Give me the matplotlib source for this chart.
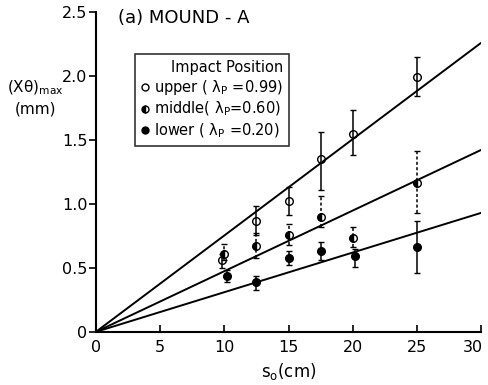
import matplotlib
matplotlib.use("Agg")
import matplotlib.pyplot as plt
import matplotlib.transforms as mtransforms
import numpy as np

# Data
upper_x = [9.8, 12.5, 15, 17.5, 20, 25]
upper_y = [0.56, 0.87, 1.02, 1.35, 1.55, 1.99]
upper_lo = [0.50, 0.76, 0.91, 1.11, 1.38, 1.84]
upper_hi = [0.61, 0.98, 1.13, 1.56, 1.73, 2.15]

middle_x = [10, 12.5, 15, 17.5, 20, 25]
middle_y = [0.61, 0.67, 0.76, 0.90, 0.73, 1.16]
middle_lo = [0.56, 0.58, 0.68, 0.82, 0.66, 0.93]
middle_hi = [0.69, 0.77, 0.84, 1.06, 0.82, 1.41]

lower_x = [10.2, 12.5, 15, 17.5, 20.2, 25]
lower_y = [0.44, 0.39, 0.58, 0.63, 0.59, 0.66]
lower_lo = [0.39, 0.33, 0.52, 0.56, 0.51, 0.46]
lower_hi = [0.48, 0.44, 0.63, 0.70, 0.65, 0.87]

# fitted line slopes (mm per cm)
slopes = [0.0753, 0.0474, 0.031]
line_x = [0, 30]

labels = [r"upper ( λ$_{\rm P}$ =0.99)",
          r"middle( λ$_{\rm P}$=0.60)",
          r"lower ( λ$_{\rm P}$ =0.20)"]
fills = ["none", "left", "full"]

fig = plt.figure(figsize=(4.89, 3.85), dpi=100)
ax = fig.add_axes([0.196, 0.138, 0.788, 0.831])

series = [
    (upper_x, upper_y, upper_lo, upper_hi),
    (middle_x, middle_y, middle_lo, middle_hi),
    (lower_x, lower_y, lower_lo, lower_hi),
]

for s in slopes:
    ax.plot(line_x, [s * x for x in line_x], color="black", lw=1.4, zorder=2)

handles = []
for (x, y, lo, hi), lab, fs in zip(series, labels, fills):
    y = np.array(y)
    yerr = [y - np.array(lo), np.array(hi) - y]
    face = "white" if fs == "none" else "black"
    eb = ax.errorbar(x, y, yerr=yerr, fmt="o", color="black", mfc=face,
                     fillstyle=fs, markerfacecoloralt="white", ms=5.5, mew=1.0,
                     ecolor="black", elinewidth=1.1, capsize=2.5, capthick=1.0, zorder=3)
    if fs == "left":
        eb[2][0].set_linestyle((0, (2, 1.5)))
    h, = ax.plot([], [], "o", color="black", mfc=face,
                 fillstyle=fs, markerfacecoloralt="white", ms=5, mew=1.0, ls="none")
    handles.append(h)

ax.set_xlim(0, 30)
ax.set_ylim(0, 2.5)
ax.set_xticks([0, 5, 10, 15, 20, 25, 30])
ax.set_yticks([0, 0.5, 1.0, 1.5, 2.0, 2.5])
ax.set_yticklabels(["0", "0.5", "1.0", "1.5", "2.0", "2.5"])
ax.spines["top"].set_visible(False)
ax.spines["right"].set_visible(False)
ax.spines["left"].set_linewidth(1.5)
ax.spines["bottom"].set_linewidth(1.5)
ax.tick_params(axis="x", direction="in", length=5, width=1.2, labelsize=11.5, pad=6)
ax.tick_params(axis="y", direction="out", length=5, width=1.2, labelsize=11.5, pad=1)

# the last x label sits a little left so it fits in the picture
last = ax.get_xticklabels()[-1]
last.set_transform(last.get_transform() + mtransforms.ScaledTranslation(-6 / 72, 0, fig.dpi_scale_trans))

ax.set_xlabel(r"s$_{\rm o}$(cm)", fontsize=12, labelpad=4)
fig.text(0.072, 0.771, r"(Xθ)$_{\rm max}$", fontsize=11, ha="center", va="center")
fig.text(0.072, 0.718, "(mm)", fontsize=11, ha="center", va="center")

ax.text(1.7, 2.45, "(a) MOUND - A", fontsize=13, ha="left", va="center")

leg = ax.legend(handles, labels, title="Impact Position", loc="upper left",
                bbox_to_anchor=(0.083, 0.89), fontsize=10.5, title_fontsize=10.5,
                frameon=True, fancybox=False, handlelength=0.6, handletextpad=0.3,
                borderpad=0.4, labelspacing=0.2, alignment="right")
leg.get_frame().set_edgecolor("black")
leg.get_frame().set_linewidth(1.2)

fig.savefig("out.png", dpi=100)
